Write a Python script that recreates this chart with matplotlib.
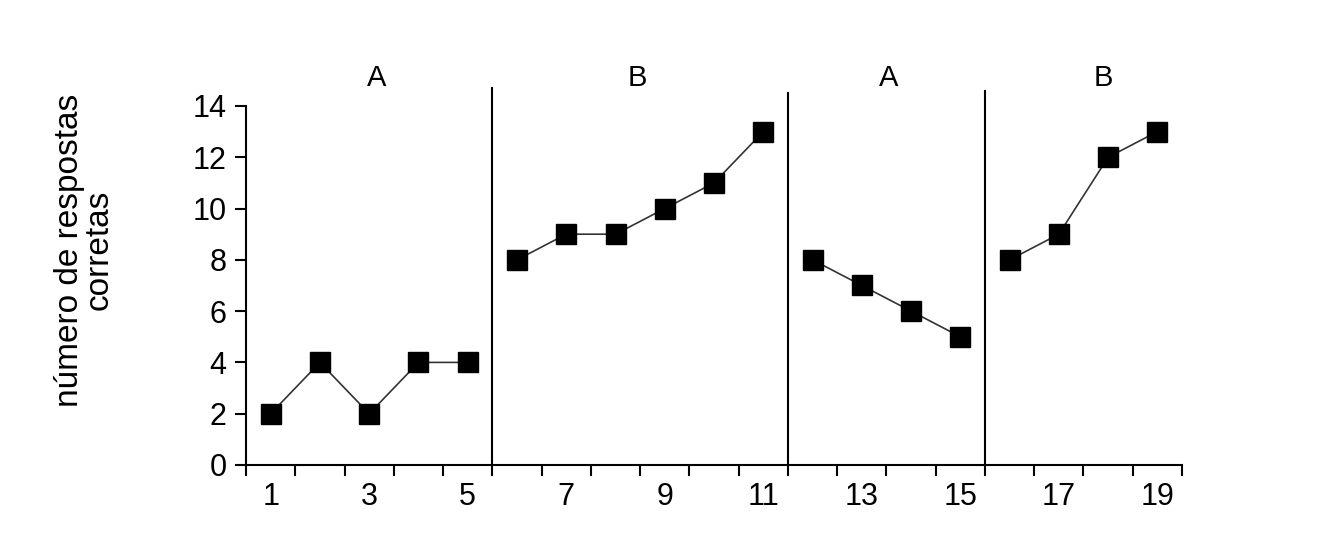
import numpy as np
import matplotlib.pyplot as plt

plt.rcParams['font.family'] = ['Liberation Sans', 'DejaVu Sans']

# sessions and correct answers per phase
phase_a1_x = [1, 2, 3, 4, 5]
phase_a1_y = [2, 4, 2, 4, 4]
phase_b1_x = [6, 7, 8, 9, 10, 11]
phase_b1_y = [8, 9, 9, 10, 11, 13]
phase_a2_x = [12, 13, 14, 15]
phase_a2_y = [8, 7, 6, 5]
phase_b2_x = [16, 17, 18, 19]
phase_b2_y = [8, 9, 12, 13]

phase_lines = [5.5, 11.5, 15.5]
phase_line_tops = [14.7, 14.5, 14.6]
phase_labels = ['A', 'B', 'A', 'B']
phase_label_x = [3.15, 8.45, 13.55, 17.9]

fig = plt.figure(figsize=(13.35, 5.46), dpi=100)
ax = fig.add_axes([0.1843, 0.1484, 0.7011, 0.6575])

for xs, ys in [(phase_a1_x, phase_a1_y), (phase_b1_x, phase_b1_y),
               (phase_a2_x, phase_a2_y), (phase_b2_x, phase_b2_y)]:
    ax.plot(xs, ys, color='#333333', linewidth=1.2, marker='s',
            markersize=14, markerfacecolor='black', markeredgecolor='black')

for xv, top in zip(phase_lines, phase_line_tops):
    ax.plot([xv, xv], [0, top], color='black', linewidth=1.5, clip_on=False)

for lbl, xp in zip(phase_labels, phase_label_x):
    ax.text(xp, 15.1, lbl, ha='center', va='center', fontsize=21)

ax.set_xlim(0.5, 19.5)
ax.set_ylim(0, 14)
ax.set_yticks(np.arange(0, 15, 2))
ax.set_xticks(np.arange(0.5, 20, 1))
ax.set_xticklabels([])
ax.set_xticks(np.arange(1, 20, 2), minor=True)
ax.set_xticklabels([str(i) for i in range(1, 20, 2)], minor=True)
ax.tick_params(axis='x', which='major', direction='out', length=8, width=1.5)
ax.tick_params(axis='x', which='minor', length=0, labelsize=22, pad=12)
ax.tick_params(axis='y', direction='out', length=8, width=1.5, labelsize=22, pad=6)

for s in ['top', 'right']:
    ax.spines[s].set_visible(False)
for s in ['left', 'bottom']:
    ax.spines[s].set_linewidth(1.5)

fig.text(84 / 1335, 1 - 250 / 546, 'número de respostas\ncorretas',
         rotation=90, ha='center', va='center', multialignment='center',
         fontsize=24, linespacing=0.95)

fig.savefig('out.png', dpi=100)
